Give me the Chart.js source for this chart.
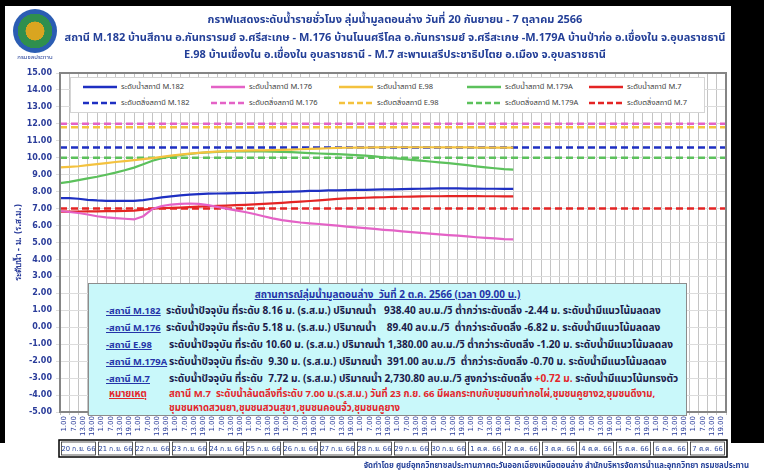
<!DOCTYPE html>
<html>
<head>
<meta charset="utf-8">
<script src="https://cdn.jsdelivr.net/npm/chart.js@4.4.0/dist/chart.umd.min.js"></script>
<style>
  html, body { margin: 0; padding: 0; background: #fff; }
  #page { position: relative; width: 764px; height: 475px; overflow: hidden;
          font-family: Tahoma, 'Noto Sans Thai', 'DejaVu Sans', sans-serif; }
  #chart { position: absolute; left: 0; top: 0; }
  .frame { position: absolute; background: #000; z-index: 5; }
  .title { position: absolute; left: 40px; width: 710px; text-align: center; color: #233f98;
           font-size: 11px; line-height: 13px; font-weight: bold; white-space: nowrap; }
  #logo { position: absolute; left: 13px; top: 9px; width: 44px; height: 44px; border-radius: 50%;
          background: radial-gradient(circle, #d9a520 0 30%, #2f8f4e 31% 55%, #2b5db3 56% 100%); }
  #logoText { position: absolute; left: 8px; top: 53px; width: 54px; text-align: center;
              font-size: 6px; color: #233f98; }
  #legend { position: absolute; left: 70px; top: 77px; width: 633px; height: 34px; background: #fff;
            border: 1px solid #d4d4d4; z-index: 2; }
  .lg { position: absolute; display: flex; align-items: center; font-size: 7.5px; line-height: 10px; color: #404040; white-space: nowrap; }
  .lg svg { margin-right: 4px; }
  #info { position: absolute; left: 88px; top: 283px; width: 597px; height: 131px; background: #c9f8fa;
          border: 1px solid #8c8c8c; z-index: 2; color: #1b1b4a; font-size: 10.1px; line-height: 12px; font-weight: bold; }
  #info div { position: absolute; white-space: nowrap; }
  #info .st { color: #2434a8; text-decoration: underline; font-size: 9.4px; }
  .red { color: #e3262b; }
  #info .note { font-size: 9.6px; line-height: 11px; }
  #footer { position: absolute; right: 15px; top: 460px; font-size: 7.8px; font-weight: bold; color: #233f98; white-space: nowrap; }
</style>
</head>
<body>
<div id="page">
  <canvas id="chart" width="764" height="475"></canvas>
  <div class="frame" style="left:0;top:0;width:764px;height:6px"></div>
  <div class="frame" style="left:0;top:0;width:5px;height:443px"></div>
  <div class="frame" style="left:731px;top:0;width:33px;height:443px"></div>
  <div id="logo"></div>
  <div id="logoText">กรมชลประทาน</div>
  <div class="title" style="top:13px">กราฟแสดงระดับน้ำรายชั่วโมง ลุ่มน้ำมูลตอนล่าง วันที่ 20 กันยายน - 7 ตุลาคม 2566</div>
  <div class="title" style="top:31px">สถานี M.182 บ้านสีถาน อ.กันทรารมย์ จ.ศรีสะเกษ - M.176 บ้านโนนศรีโคล อ.กันทรารมย์ จ.ศรีสะเกษ -M.179A บ้านป่าก่อ อ.เขื่องใน จ.อุบลราชธานี</div>
  <div class="title" style="top:48px">E.98 บ้านเขื่องใน อ.เขื่องใน อุบลราชธานี - M.7 สะพานเสรีประชาธิปไตย อ.เมือง จ.อุบลราชธานี</div>
  <div id="legend"></div>
  <div id="info">
    <div style="left:0;width:597px;text-align:center;top:5px;font-size:10px;color:#2434a8;text-decoration:underline">สถานการณ์ลุ่มน้ำมูลตอนล่าง&nbsp; วันที่ 2 ต.ค. 2566 (เวลา 09.00 น.)</div>
    <div class="st" style="left:17px;top:21px">-สถานี M.182</div>
    <div style="left:77px;top:21px">ระดับน้ำปัจจุบัน ที่ระดับ 8.16 ม. (ร.ส.ม.) ปริมาณน้ำ &nbsp; 938.40 ลบ.ม./วิ ต่ำกว่าระดับตลิ่ง -2.44 ม. ระดับน้ำมีแนวโน้มลดลง</div>
    <div class="st" style="left:17px;top:38px">-สถานี M.176</div>
    <div style="left:77px;top:38px">ระดับน้ำปัจจุบัน ที่ระดับ 5.18 ม. (ร.ส.ม.) ปริมาณน้ำ &nbsp;&nbsp; 89.40 ลบ.ม./วิ&nbsp; ต่ำกว่าระดับตลิ่ง -6.82 ม. ระดับน้ำมีแนวโน้มลดลง</div>
    <div class="st" style="left:17px;top:55px">-สถานี E.98</div>
    <div style="left:80px;top:55px">ระดับน้ำปัจจุบัน ที่ระดับ 10.60 ม. (ร.ส.ม.) ปริมาณน้ำ 1,380.00 ลบ.ม./วิ ต่ำกว่าระดับตลิ่ง -1.20 ม. ระดับน้ำมีแนวโน้มลดลง</div>
    <div class="st" style="left:17px;top:72px">-สถานี M.179A</div>
    <div style="left:80px;top:72px">ระดับน้ำปัจจุบัน ที่ระดับ&nbsp; 9.30 ม. (ร.ส.ม.) ปริมาณน้ำ&nbsp; 391.00 ลบ.ม./วิ&nbsp; ต่ำกว่าระดับตลิ่ง -0.70 ม. ระดับน้ำมีแนวโน้มลดลง</div>
    <div class="st" style="left:17px;top:89px">-สถานี M.7</div>
    <div style="left:80px;top:89px">ระดับน้ำปัจจุบัน ที่ระดับ&nbsp; 7.72 ม. (ร.ส.ม.) ปริมาณน้ำ 2,730.80 ลบ.ม./วิ สูงกว่าระดับตลิ่ง <span class="red">+0.72 ม.</span> ระดับน้ำมีแนวโน้มทรงตัว</div>
    <div class="red note" style="left:20px;top:105px;text-decoration:underline">หมายเหตุ</div>
    <div class="red note" style="left:80px;top:105px">สถานี M.7&nbsp; ระดับน้ำล้นตลิ่งที่ระดับ 7.00 ม.(ร.ส.ม.) วันที่ 23 ก.ย. 66 มีผลกระทบกับชุมชนท่ากอไผ่,ชุมชนคูยาง2,ชุมชนดีงาม,</div>
    <div class="red note" style="left:80px;top:119px">ชุมชนหาดสวนยา,ชุมชนสวนสุข1,ชุมชนคอนจั๋ว,ชุมชนคูยาง</div>
  </div>
  <div id="footer">จัดทำโดย ศูนย์อุทกวิทยาชลประทานภาคตะวันออกเฉียงเหนือตอนล่าง สำนักบริหารจัดการน้ำและอุทกวิทยา กรมชลประทาน</div>
</div>
<script>
// tick labels
const hourLabels = ['1.00', '7.00', '13.00', '19.00'];
const dayLabels = ['20 ก.ย. 66', '21 ก.ย. 66', '22 ก.ย. 66', '23 ก.ย. 66', '24 ก.ย. 66', '25 ก.ย. 66',
  '26 ก.ย. 66', '27 ก.ย. 66', '28 ก.ย. 66', '29 ก.ย. 66', '30 ก.ย. 66', '1 ต.ค. 66',
  '2 ต.ค. 66', '3 ต.ค. 66', '4 ต.ค. 66', '5 ต.ค. 66', '6 ต.ค. 66', '7 ต.ค. 66'];

// stations and bank-full levels (ระดับตลิ่ง)
const stations = ['M.182', 'M.176', 'E.98', 'M.179A', 'M.7'];
const bankLevels = [10.60, 12.00, 11.80, 10.00, 7.00];

// water level every 6 hours from 20 Sep 1.00 to 2 Oct 7.00
const levelM182 = [7.62, 7.62, 7.58, 7.52, 7.48, 7.46, 7.46, 7.46, 7.46, 7.50, 7.58, 7.66, 7.72, 7.78, 7.82, 7.85,
  7.88, 7.89, 7.90, 7.91, 7.92, 7.93, 7.95, 7.97, 7.99, 8.00, 8.02, 8.04, 8.05, 8.07, 8.08, 8.09,
  8.10, 8.11, 8.12, 8.13, 8.14, 8.15, 8.16, 8.17, 8.18, 8.19, 8.19, 8.19, 8.18, 8.18, 8.17, 8.17, 8.16, 8.16];
const levelM176 = [6.86, 6.80, 6.74, 6.65, 6.55, 6.48, 6.44, 6.40, 6.36, 6.55, 6.98, 7.15, 7.24, 7.28, 7.30, 7.28,
  7.20, 7.10, 7.00, 6.90, 6.80, 6.68, 6.55, 6.42, 6.32, 6.25, 6.18, 6.13, 6.09, 6.04, 5.99, 5.94,
  5.89, 5.85, 5.80, 5.75, 5.71, 5.66, 5.61, 5.57, 5.52, 5.48, 5.44, 5.40, 5.36, 5.31, 5.27, 5.24, 5.20, 5.18];
const levelE98 = [9.43, 9.46, 9.50, 9.56, 9.62, 9.68, 9.75, 9.80, 9.86, 9.92, 9.98, 10.05, 10.12, 10.18, 10.24, 10.29,
  10.33, 10.36, 10.39, 10.41, 10.42, 10.43, 10.44, 10.45, 10.46, 10.48, 10.50, 10.52, 10.54, 10.56, 10.58, 10.59,
  10.60, 10.60, 10.61, 10.61, 10.62, 10.62, 10.62, 10.62, 10.62, 10.61, 10.61, 10.61, 10.61, 10.60, 10.60, 10.60, 10.60, 10.60];
const levelM179A = [8.50, 8.58, 8.68, 8.78, 8.88, 9.00, 9.12, 9.26, 9.42, 9.62, 9.82, 9.98, 10.08, 10.15, 10.22, 10.28,
  10.32, 10.35, 10.37, 10.38, 10.38, 10.38, 10.37, 10.36, 10.35, 10.33, 10.30, 10.27, 10.25, 10.23, 10.21, 10.19,
  10.16, 10.12, 10.08, 10.03, 9.98, 9.93, 9.88, 9.83, 9.78, 9.73, 9.68, 9.62, 9.56, 9.49, 9.43, 9.38, 9.33, 9.30];
const levelM7 = [6.82, 6.82, 6.83, 6.84, 6.84, 6.85, 6.85, 6.86, 6.88, 6.94, 6.99, 7.02, 7.04, 7.06, 7.09, 7.12,
  7.14, 7.16, 7.18, 7.20, 7.22, 7.25, 7.28, 7.31, 7.34, 7.38, 7.41, 7.45, 7.49, 7.53, 7.57, 7.60,
  7.62, 7.64, 7.66, 7.67, 7.69, 7.70, 7.71, 7.72, 7.73, 7.73, 7.74, 7.74, 7.74, 7.74, 7.73, 7.73, 7.72, 7.72];

const levels = [levelM182, levelM176, levelE98, levelM179A, levelM7];
const colors = ['#1e2fc2', '#e462c6', '#f4c23e', '#5cc15c', '#e42424'];

const fontAxis = "'DejaVu Sans', Verdana, sans-serif";
const steps = hourLabels.length * dayLabels.length;

const datasets = [];
stations.forEach((st, i) => {
  datasets.push({
    label: 'ระดับน้ำสถานี ' + st,
    data: levels[i].map((v, k) => ({ x: k, y: v })),
    borderColor: colors[i],
    borderWidth: 2.2,
    pointRadius: 0,
    tension: 0
  });
});
stations.forEach((st, i) => {
  datasets.push({
    label: 'ระดับตลิ่งสถานี ' + st,
    data: [{ x: 0, y: bankLevels[i] }, { x: steps, y: bankLevels[i] }],
    borderColor: colors[i],
    borderWidth: 2.5,
    borderDash: [7, 4],
    pointRadius: 0
  });
});

// legend drawn as html over the plot, 5 columns x 2 rows
const legend = document.getElementById('legend');
const colX = [12, 140, 268, 396, 518];
datasets.forEach((ds, i) => {
  const item = document.createElement('div');
  item.className = 'lg';
  item.style.left = colX[i % 5] + 'px';
  item.style.top = (i < 5 ? 4 : 20) + 'px';
  const dash = ds.borderDash ? 'stroke-dasharray="6 3"' : '';
  item.innerHTML = `<svg width="34" height="8"><line x1="0" y1="4" x2="34" y2="4" stroke="${ds.borderColor}" stroke-width="2.5" ${dash}/></svg>${ds.label}`;
  legend.appendChild(item);
});

const decor = {
  id: 'decor',
  afterDraw(chart) {
    const { ctx, chartArea: a, scales: { x } } = chart;
    ctx.save();
    ctx.strokeStyle = '#858585';
    ctx.lineWidth = 2;
    ctx.strokeRect(a.left, a.top, a.right - a.left, a.bottom - a.top);

    // day boxes under the hour ticks
    const top = 440, h = 17;
    const x0 = x.getPixelForValue(0), x1 = x.getPixelForValue(steps);
    ctx.strokeStyle = '#000';
    ctx.lineWidth = 1.5;
    ctx.strokeRect(x0 - 1, top, x1 - x0 + 2, h);
    ctx.font = "6.8px Tahoma, 'DejaVu Sans', sans-serif";
    ctx.fillStyle = '#233f98';
    ctx.textAlign = 'center';
    ctx.textBaseline = 'middle';
    dayLabels.forEach((d, i) => {
      const l = x.getPixelForValue(i * 4), r = x.getPixelForValue(i * 4 + 4);
      ctx.lineWidth = 0.8;
      ctx.strokeStyle = '#333';
      ctx.strokeRect(l + 1.5, top + 2, r - l - 3, h - 4);
      ctx.fillText(d, (l + r) / 2, top + h / 2 + 0.5);
    });
    ctx.restore();
  }
};

new Chart(document.getElementById('chart'), {
  type: 'line',
  data: { datasets },
  options: {
    responsive: false,
    animation: false,
    layout: { padding: { left: 6, top: 73, right: 38, bottom: 35 } },
    plugins: { legend: { display: false }, tooltip: { enabled: false } },
    scales: {
      x: {
        type: 'linear',
        min: 0,
        max: steps,
        afterFit: s => { s.height = 28; },
        grid: { color: '#c4c4c4', lineWidth: 1, tickLength: 3 },
        border: { color: '#858585' },
        ticks: {
          stepSize: 1,
          autoSkip: false,
          maxRotation: 90,
          minRotation: 90,
          labelOffset: 4.6,
          padding: 1,
          color: '#2a3c9a',
          font: { family: fontAxis, size: 7 },
          callback: v => (v < steps ? hourLabels[v % 4] : '')
        }
      },
      y: {
        min: -5,
        max: 15,
        afterFit: s => { s.width = 54; },
        grid: { color: '#dcdcdc', tickLength: 4 },
        border: { color: '#858585' },
        ticks: {
          stepSize: 1,
          padding: 4,
          color: '#2a3c9a',
          font: { family: fontAxis, size: 8, weight: 'bold' },
          callback: v => v.toFixed(2)
        },
        title: {
          display: true,
          text: 'ระดับน้ำ - ม. (ร.ส.ม.)',
          color: '#2a3c9a',
          font: { family: "Tahoma, 'DejaVu Sans', sans-serif", size: 8, weight: 'bold' },
          padding: { top: 8, bottom: 0 }
        }
      }
    }
  },
  plugins: [decor]
});
</script>
</body>
</html>
